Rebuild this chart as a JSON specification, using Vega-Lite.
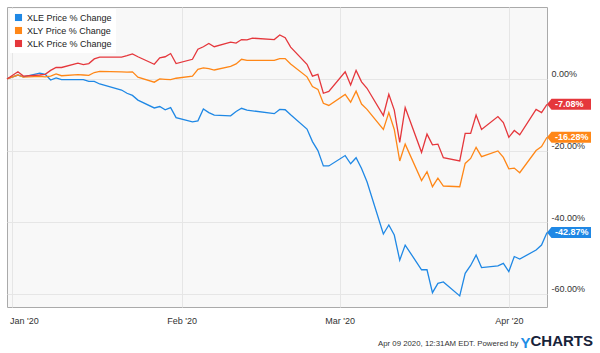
{
  "$schema": "https://vega.github.io/schema/vega-lite/v6.json",
  "width": 540,
  "height": 300,
  "autosize": {"type": "none"},
  "padding": {"left": 7, "top": 7, "right": 53, "bottom": 46},
  "background": "white",
  "config": {
    "font": "Liberation Sans",
    "view": {"fill": "#f8f8f8", "stroke": "#aaaaaa", "strokeWidth": 1}
  },
  "title": {
    "text": "CHARTS",
    "orient": "bottom",
    "anchor": "end",
    "frame": "group",
    "align": "right",
    "baseline": "middle",
    "fontSize": 15,
    "fontWeight": "bold",
    "color": "#17233a",
    "offset": 0,
    "dx": 46,
    "dy": -9
  },
  "data": {
    "values": [
      {"date": "2019/12/31", "XLE": 0, "XLY": 0, "XLK": 0},
      {"date": "2020/01/02", "XLE": 1.1, "XLY": 1.1, "XLK": 2.0},
      {"date": "2020/01/03", "XLE": 0.6, "XLY": 0.5, "XLK": 0.8},
      {"date": "2020/01/06", "XLE": 1.6, "XLY": 0.7, "XLK": 1.1},
      {"date": "2020/01/07", "XLE": 1.3, "XLY": 0.6, "XLK": 1.3},
      {"date": "2020/01/08", "XLE": -0.3, "XLY": 0.8, "XLK": 2.4},
      {"date": "2020/01/09", "XLE": 0.3, "XLY": 1.4, "XLK": 3.2},
      {"date": "2020/01/10", "XLE": -0.2, "XLY": 0.9, "XLK": 3.2},
      {"date": "2020/01/13", "XLE": -0.2, "XLY": 1.2, "XLK": 4.4},
      {"date": "2020/01/14", "XLE": -0.2, "XLY": 1.1, "XLK": 4.0},
      {"date": "2020/01/15", "XLE": -0.7, "XLY": 1.0, "XLK": 4.3},
      {"date": "2020/01/16", "XLE": -0.7, "XLY": 1.8, "XLK": 5.6},
      {"date": "2020/01/17", "XLE": -1.4, "XLY": 2.1, "XLK": 6.1},
      {"date": "2020/01/21", "XLE": -3.1, "XLY": 2.0, "XLK": 6.1},
      {"date": "2020/01/22", "XLE": -4.0, "XLY": 1.9, "XLK": 6.5},
      {"date": "2020/01/23", "XLE": -4.6, "XLY": 2.0, "XLK": 7.0},
      {"date": "2020/01/24", "XLE": -5.9, "XLY": 0.5, "XLK": 6.2},
      {"date": "2020/01/27", "XLE": -8.1, "XLY": -0.9, "XLK": 4.1},
      {"date": "2020/01/28", "XLE": -7.7, "XLY": 0.0, "XLK": 5.9},
      {"date": "2020/01/29", "XLE": -8.6, "XLY": -0.1, "XLK": 6.2},
      {"date": "2020/01/30", "XLE": -8.0, "XLY": -0.2, "XLK": 7.1},
      {"date": "2020/01/31", "XLE": -10.8, "XLY": 0.2, "XLK": 4.3},
      {"date": "2020/02/03", "XLE": -12.0, "XLY": 0.8, "XLK": 5.5},
      {"date": "2020/02/04", "XLE": -11.7, "XLY": 2.7, "XLK": 8.3},
      {"date": "2020/02/05", "XLE": -8.4, "XLY": 3.1, "XLK": 9.0},
      {"date": "2020/02/06", "XLE": -9.4, "XLY": 2.9, "XLK": 9.9},
      {"date": "2020/02/07", "XLE": -10.1, "XLY": 2.5, "XLK": 9.0},
      {"date": "2020/02/10", "XLE": -10.3, "XLY": 3.5, "XLK": 10.3},
      {"date": "2020/02/11", "XLE": -9.1, "XLY": 4.2, "XLK": 10.0},
      {"date": "2020/02/12", "XLE": -8.2, "XLY": 5.5, "XLK": 11.0},
      {"date": "2020/02/13", "XLE": -8.7, "XLY": 5.2, "XLK": 10.9},
      {"date": "2020/02/14", "XLE": -8.9, "XLY": 5.2, "XLK": 11.4},
      {"date": "2020/02/18", "XLE": -9.7, "XLY": 5.2, "XLK": 11.0},
      {"date": "2020/02/19", "XLE": -8.5, "XLY": 5.7, "XLK": 12.3},
      {"date": "2020/02/20", "XLE": -8.6, "XLY": 5.7, "XLK": 11.5},
      {"date": "2020/02/21", "XLE": -10.0, "XLY": 4.2, "XLK": 8.9},
      {"date": "2020/02/24", "XLE": -14.0, "XLY": 0.6, "XLK": 4.1},
      {"date": "2020/02/25", "XLE": -17.5, "XLY": -2.1, "XLK": 0.8},
      {"date": "2020/02/26", "XLE": -20.0, "XLY": -2.9, "XLK": 1.3},
      {"date": "2020/02/27", "XLE": -24.3, "XLY": -6.8, "XLK": -4.0},
      {"date": "2020/02/28", "XLE": -24.3, "XLY": -7.4, "XLK": -3.5},
      {"date": "2020/03/02", "XLE": -21.4, "XLY": -4.3, "XLK": 2.0},
      {"date": "2020/03/03", "XLE": -23.7, "XLY": -6.5, "XLK": -1.7},
      {"date": "2020/03/04", "XLE": -22.0, "XLY": -3.4, "XLK": 2.4},
      {"date": "2020/03/05", "XLE": -25.0, "XLY": -7.0, "XLK": -0.8},
      {"date": "2020/03/06", "XLE": -28.7, "XLY": -8.5, "XLK": -2.6},
      {"date": "2020/03/09", "XLE": -43.3, "XLY": -14.1, "XLK": -10.2},
      {"date": "2020/03/10", "XLE": -40.8, "XLY": -9.4, "XLK": -4.3},
      {"date": "2020/03/11", "XLE": -43.6, "XLY": -14.1, "XLK": -8.7},
      {"date": "2020/03/12", "XLE": -50.6, "XLY": -22.9, "XLK": -17.7},
      {"date": "2020/03/13", "XLE": -46.4, "XLY": -18.2, "XLK": -8.0},
      {"date": "2020/03/16", "XLE": -53.3, "XLY": -28.4, "XLK": -20.5},
      {"date": "2020/03/17", "XLE": -53.3, "XLY": -25.9, "XLK": -15.4},
      {"date": "2020/03/18", "XLE": -59.7, "XLY": -30.1, "XLK": -18.4},
      {"date": "2020/03/19", "XLE": -57.1, "XLY": -27.7, "XLK": -18.2},
      {"date": "2020/03/20", "XLE": -56.7, "XLY": -29.9, "XLK": -22.0},
      {"date": "2020/03/23", "XLE": -60.6, "XLY": -30.1, "XLK": -22.9},
      {"date": "2020/03/24", "XLE": -54.3, "XLY": -23.6, "XLK": -15.2},
      {"date": "2020/03/25", "XLE": -52.1, "XLY": -22.2, "XLK": -15.2},
      {"date": "2020/03/26", "XLE": -49.2, "XLY": -19.1, "XLK": -10.1},
      {"date": "2020/03/27", "XLE": -52.7, "XLY": -21.7, "XLK": -14.1},
      {"date": "2020/03/30", "XLE": -52.2, "XLY": -20.1, "XLK": -10.5},
      {"date": "2020/03/31", "XLE": -51.5, "XLY": -21.9, "XLK": -12.2},
      {"date": "2020/04/01", "XLE": -53.8, "XLY": -25.1, "XLK": -16.3},
      {"date": "2020/04/02", "XLE": -49.6, "XLY": -24.9, "XLK": -14.4},
      {"date": "2020/04/03", "XLE": -50.3, "XLY": -26.2, "XLK": -15.6},
      {"date": "2020/04/06", "XLE": -47.8, "XLY": -20.0, "XLK": -8.5},
      {"date": "2020/04/07", "XLE": -46.4, "XLY": -18.9, "XLK": -9.4},
      {"date": "2020/04/08", "XLE": -42.87, "XLY": -16.28, "XLK": -7.08}
    ]
  },
  "transform": [{"fold": ["XLE", "XLY", "XLK"], "as": ["key", "value"]}],
  "encoding": {
    "x": {
      "field": "date",
      "type": "temporal",
      "scale": {
        "domain": [{"year": 2019, "month": 12, "date": 31}, {"year": 2020, "month": 4, "date": 8}],
        "nice": false
      },
      "axis": {
        "values": [
          {"year": 2020, "month": 1, "date": 1},
          {"year": 2020, "month": 2, "date": 1},
          {"year": 2020, "month": 3, "date": 1},
          {"year": 2020, "month": 4, "date": 1}
        ],
        "format": "%b '%y",
        "grid": true,
        "gridColor": "#e6e6e6",
        "ticks": false,
        "domain": false,
        "labelPadding": 9,
        "labelFontSize": 9,
        "labelColor": "#333333",
        "labelOverlap": false,
        "labelBound": false,
        "labelAlign": {"condition": {"test": "month(datum.value) == 0", "value": "left"}, "value": "center"},
        "labelOffset": {"condition": {"test": "month(datum.value) == 0", "value": -3}, "value": 0},
        "title": "Apr 09 2020, 12:31AM EDT.  Powered by",
        "titleX": 511,
        "titleY": 36,
        "titleAlign": "right",
        "titleBaseline": "middle",
        "titleFontSize": 7.8,
        "titleFontWeight": "normal",
        "titleColor": "#333333"
      }
    },
    "y": {
      "field": "value",
      "type": "quantitative",
      "scale": {"domain": [-63.7, 20.1], "nice": false, "zero": false},
      "axis": {
        "orient": "right",
        "values": [0, -20, -40, -60],
        "labelExpr": "replace(format(datum.value, '.2f'), '\u2212', '-') + '%'",
        "grid": true,
        "gridColor": "#e6e6e6",
        "ticks": false,
        "domain": false,
        "labelPadding": 4,
        "labelFontSize": 9,
        "labelColor": "#333333",
        "labelOffset": -5,
        "title": "Y",
        "titleAngle": 0,
        "titleX": -27,
        "titleY": 335,
        "titleAlign": "left",
        "titleBaseline": "middle",
        "titleFontSize": 15,
        "titleFontWeight": "bold",
        "titleColor": "#1f8ee6"
      }
    },
    "color": {
      "field": "key",
      "type": "nominal",
      "scale": {"domain": ["XLE", "XLY", "XLK"], "range": ["#1f88e5", "#ff8717", "#e5373c"]},
      "legend": {
        "title": null,
        "orient": "none",
        "legendX": 3,
        "legendY": 2,
        "symbolType": "square",
        "symbolSize": 50,
        "symbolStrokeWidth": 0,
        "symbolOpacity": 1,
        "labelExpr": "datum.label + ' Price % Change'",
        "labelFontSize": 9,
        "labelColor": "#222222",
        "labelOffset": 4,
        "fillColor": "white",
        "padding": 4,
        "rowPadding": 3,
        "encode": {
          "symbols": {
            "update": {
              "fill": {"scale": "color", "field": "value"},
              "strokeWidth": {"value": 0},
              "shape": {"value": "square"}
            }
          }
        }
      }
    }
  },
  "layer": [
    {"mark": {"type": "line", "strokeWidth": 1.3}},
    {
      "transform": [{"filter": "time(datum.date) == time(datetime(2020, 3, 8))"}],
      "mark": {
        "type": "point",
        "filled": true,
        "opacity": 1,
        "strokeWidth": 0,
        "shape": "M0,0L0.45,-0.55L4.4,-0.55L4.4,0.55L0.45,0.55Z",
        "size": 400
      }
    },
    {
      "transform": [
        {"filter": "time(datum.date) == time(datetime(2020, 3, 8))"},
        {"calculate": "replace(format(datum.value, '.2f'), '\u2212', '-') + '%'", "as": "label"}
      ],
      "mark": {"type": "text", "align": "left", "baseline": "middle", "dx": 8, "fontSize": 9, "fontWeight": "bold"},
      "encoding": {
        "text": {"field": "label"},
        "color": {"value": "white"}
      }
    }
  ]
}
